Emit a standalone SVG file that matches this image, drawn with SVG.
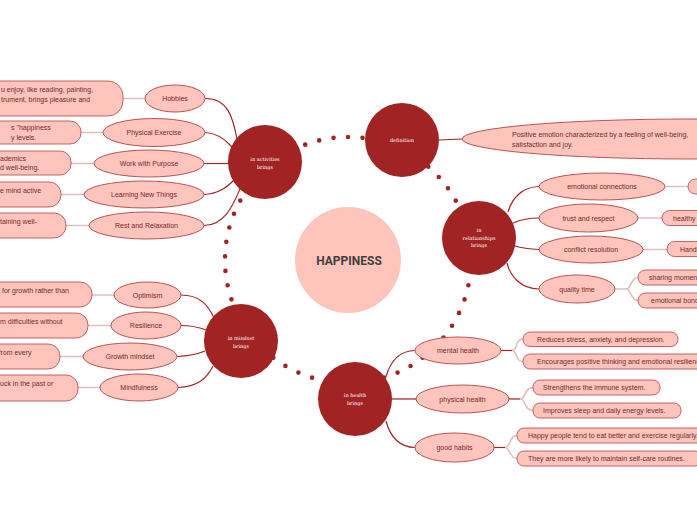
<svg xmlns="http://www.w3.org/2000/svg" width="697" height="520" viewBox="0 0 697 520">
<style>
.hub{fill:#A12323}
.ct{font-family:"DejaVu Serif","Liberation Serif",serif;font-size:5px;fill:#ffffff;text-anchor:middle}
.ell{fill:#FFC4BC;stroke:#B04446;stroke-width:0.9}
.et{font-family:"Liberation Sans",Arial,sans-serif;font-size:7px;fill:#74292B;text-anchor:middle}
.box{fill:#FFC4BC;stroke:#BF5456;stroke-width:0.9}
.bt{font-family:"Liberation Sans",Arial,sans-serif;font-size:7px;fill:#74292B}
.conn{fill:none;stroke:#A12323;stroke-width:1.2}
.lnk{fill:none;stroke:#E2BCBC;stroke-width:1.5}
.ring{fill:none;stroke:#A12323;stroke-width:4.6;stroke-linecap:round;stroke-dasharray:0 14.58}
</style>
<rect width="697" height="520" fill="#ffffff"/>
<g id="connectors">
<path class="ring" d="M348 137 A123 123 0 1 1 348 383 A123 123 0 1 1 348 137"/>
<path class="conn" d="M205 98.5 C228 98 233 118 237 139"/>
<path class="conn" d="M205 132.5 C218 133 226 140 232 147"/>
<path class="conn" d="M204 163.5 L229 163.5"/>
<path class="conn" d="M204 194.5 C218 194 226 188 234 180"/>
<path class="conn" d="M204 225.5 C225 225 233 205 240 189"/>
<path class="conn" d="M181 295 C200 295 208 305 214 318"/>
<path class="conn" d="M181 325.5 C192 325.5 198 327 206 330"/>
<path class="conn" d="M177 356.5 C190 356 198 354 205 351"/>
<path class="conn" d="M178 387.5 C198 387 207 378 213 366"/>
<path class="conn" d="M439 140 L462 139"/>
<path class="conn" d="M539 186.5 C522 187 512 198 508 212"/>
<path class="conn" d="M539 218 C528 218 520 220 513 223"/>
<path class="conn" d="M539 249.5 C530 249 522 248 515 246"/>
<path class="conn" d="M539 289 C520 289 510 275 507 263"/>
<path class="conn" d="M415 350.5 C398 351 390 362 386 377"/>
<path class="conn" d="M392 399 L416 399"/>
<path class="conn" d="M415 447.5 C398 447 390 436 386 421"/>
<path class="lnk" d="M123 98.5 L145 98.5"/>
<path class="lnk" d="M81 132.5 L103 132.5"/>
<path class="lnk" d="M71 163.5 L94 163.5"/>
<path class="lnk" d="M61 194.5 L84 194.5"/>
<path class="lnk" d="M66 225.5 L89 225.5"/>
<path class="lnk" d="M92 295 L114 295"/>
<path class="lnk" d="M88 325.5 L111 325.5"/>
<path class="lnk" d="M60 356.5 L83 356.5"/>
<path class="lnk" d="M78 387.5 L100 387.5"/>
<path class="lnk" d="M665 186.5 L688 186.5"/>
<path class="lnk" d="M638 218 L662 218"/>
<path class="lnk" d="M643 249.5 L667 249.5"/>
<path class="lnk" d="M615 289 L626 289"/>
<path class="lnk" d="M626 289 C632 289 630 277.5 638 277.5 M626 289 C632 289 630 300.5 638 300.5"/>
<path class="conn" d="M501 350.5 L512 350.5"/>
<path class="lnk" d="M512 350.5 C518 350 515 339 523 339 M512 350.5 C518 351 515 361.5 523 361.5"/>
<path class="conn" d="M509 399 L520 399"/>
<path class="lnk" d="M520 399 C526 399 524 387.5 533 387.5 M520 399 C526 399 524 410.5 533 410.5"/>
<path class="conn" d="M494 447.5 L505 447.5"/>
<path class="lnk" d="M505 447.5 C511 447 509 435.5 517 435.5 M505 447.5 C511 448 509 458.5 517 458.5"/>
</g>
<g id="happiness">
<circle cx="348" cy="260" r="53" fill="#FFC4BC"/>
<text x="349" y="265" font-family="Roboto,'Liberation Sans',sans-serif" font-size="12" font-weight="bold" fill="#3F3F3F" text-anchor="middle">HAPPINESS</text>
</g>
<g id="activities">
<circle class="hub" cx="265" cy="162" r="37"/>
<text class="ct" x="265" y="161">in activities</text>
<text class="ct" x="265" y="168.5">brings</text>
</g>
<g id="definition">
<circle class="hub" cx="402" cy="140" r="37"/>
<text class="ct" x="402" y="141.5">definition</text>
</g>
<g id="relationships">
<circle class="hub" cx="479" cy="238" r="37"/>
<text class="ct" x="479" y="232">in</text>
<text class="ct" x="479" y="239.5">relationships</text>
<text class="ct" x="479" y="247">brings</text>
</g>
<g id="mindset">
<circle class="hub" cx="241" cy="341" r="37"/>
<text class="ct" x="241" y="340">in mindset</text>
<text class="ct" x="241" y="347.5">brings</text>
</g>
<g id="health">
<circle class="hub" cx="355" cy="399" r="37"/>
<text class="ct" x="355" y="397">in health</text>
<text class="ct" x="355" y="404.5">brings</text>
</g>
<g id="hobbies">
<ellipse class="ell" cx="175" cy="98.5" rx="30" ry="13.5"/>
<text class="et" x="175" y="101">Hobbies</text>
</g>
<g id="hobbies-detail">
<rect class="box" x="-80" y="81" width="203" height="35" rx="15"/>
<text class="bt" x="1" y="92">u enjoy, like reading, painting,</text>
<text class="bt" x="1" y="101.5">trument, brings pleasure and</text>
</g>
<g id="physical-exercise">
<ellipse class="ell" cx="154" cy="132.5" rx="51" ry="14"/>
<text class="et" x="154" y="135">Physical Exercise</text>
</g>
<g id="physical-exercise-detail">
<rect class="box" x="-80" y="121" width="161" height="23" rx="11"/>
<text class="bt" x="11" y="130">s "happiness</text>
<text class="bt" x="11" y="139.5">y levels.</text>
</g>
<g id="work-purpose">
<ellipse class="ell" cx="149" cy="163.5" rx="55" ry="13.5"/>
<text class="et" x="149" y="166">Work with Purpose</text>
</g>
<g id="work-purpose-detail">
<rect class="box" x="-80" y="151" width="151" height="24" rx="11"/>
<text class="bt" x="0" y="160.5">ademics</text>
<text class="bt" x="0" y="170">d well-being.</text>
</g>
<g id="learning">
<ellipse class="ell" cx="144" cy="194.5" rx="60" ry="13.5"/>
<text class="et" x="144" y="197">Learning New Things</text>
</g>
<g id="learning-detail">
<rect class="box" x="-80" y="182" width="141" height="25" rx="12"/>
<text class="bt" x="0" y="193">e mind active</text>
</g>
<g id="rest">
<ellipse class="ell" cx="146.5" cy="225.5" rx="57.5" ry="13.5"/>
<text class="et" x="146.5" y="228">Rest and Relaxation</text>
</g>
<g id="rest-detail">
<rect class="box" x="-80" y="213" width="146" height="25" rx="12"/>
<text class="bt" x="0" y="224">taining well-</text>
</g>
<g id="optimism">
<ellipse class="ell" cx="147.5" cy="295" rx="33.5" ry="13"/>
<text class="et" x="147.5" y="297.5">Optimism</text>
</g>
<g id="optimism-detail">
<rect class="box" x="-80" y="282" width="172" height="25" rx="12"/>
<text class="bt" x="2" y="292.5">for growth rather than</text>
</g>
<g id="resilience">
<ellipse class="ell" cx="146" cy="325.5" rx="35" ry="13.5"/>
<text class="et" x="146" y="328">Resilience</text>
</g>
<g id="resilience-detail">
<rect class="box" x="-80" y="313" width="168" height="25" rx="12"/>
<text class="bt" x="0" y="324">m difficulties without</text>
</g>
<g id="growth-mindset">
<ellipse class="ell" cx="130" cy="356.5" rx="47" ry="13.5"/>
<text class="et" x="130" y="359">Growth mindset</text>
</g>
<g id="growth-mindset-detail">
<rect class="box" x="-80" y="344" width="140" height="25" rx="12"/>
<text class="bt" x="-1.5" y="354.5">from every</text>
</g>
<g id="mindfulness">
<ellipse class="ell" cx="139" cy="387.5" rx="39" ry="13.5"/>
<text class="et" x="139" y="390">Mindfulness</text>
</g>
<g id="mindfulness-detail">
<rect class="box" x="-80" y="375" width="158" height="26" rx="12"/>
<text class="bt" x="0" y="385.5">uck in the past or</text>
</g>
<g id="definition-text">
<ellipse class="ell" cx="690" cy="139" rx="228" ry="20"/>
<text class="bt" x="512" y="136.5">Positive emotion characterized by a feeling of well-being,</text>
<text class="bt" x="512" y="146.5">satisfaction and joy.</text>
</g>
<g id="emotional-connections">
<ellipse class="ell" cx="602" cy="186.5" rx="63" ry="13.5"/>
<text class="et" x="602" y="189">emotional connections</text>
</g>
<g id="emotional-connections-detail">
<rect class="box" x="688" y="179" width="60" height="15" rx="7.5"/>
</g>
<g id="trust">
<ellipse class="ell" cx="588.5" cy="218" rx="49.5" ry="14"/>
<text class="et" x="588.5" y="220.5">trust and respect</text>
</g>
<g id="trust-detail">
<rect class="box" x="662" y="210.5" width="80" height="15" rx="7.5"/>
<text class="bt" x="673" y="220.5">healthy</text>
</g>
<g id="conflict">
<ellipse class="ell" cx="591" cy="249.5" rx="52" ry="13.5"/>
<text class="et" x="591" y="252">conflict resolution</text>
</g>
<g id="conflict-detail">
<rect class="box" x="667" y="241.5" width="80" height="15" rx="7.5"/>
<text class="bt" x="680" y="251.5">Handling</text>
</g>
<g id="quality-time">
<ellipse class="ell" cx="577" cy="289" rx="38" ry="14"/>
<text class="et" x="577" y="291.5">quality time</text>
</g>
<g id="sharing-moments">
<rect class="box" x="638" y="270" width="80" height="15" rx="7.5"/>
<text class="bt" x="649" y="280">sharing moments</text>
</g>
<g id="emotional-bonds">
<rect class="box" x="638" y="293" width="80" height="15" rx="7.5"/>
<text class="bt" x="651" y="303">emotional bonds</text>
</g>
<g id="mental-health">
<ellipse class="ell" cx="458" cy="350.5" rx="43" ry="13.5"/>
<text class="et" x="458" y="353">mental health</text>
</g>
<g id="mental-1">
<rect class="box" x="523" y="332" width="155" height="14.5" rx="7"/>
<text class="bt" x="537" y="341.5">Reduces stress, anxiety, and depression.</text>
</g>
<g id="mental-2">
<rect class="box" x="523" y="354" width="190" height="15" rx="7"/>
<text class="bt" x="537" y="364">Encourages positive thinking and emotional resilience.</text>
</g>
<g id="physical-health">
<ellipse class="ell" cx="462.5" cy="399" rx="46.5" ry="14"/>
<text class="et" x="462.5" y="401.5">physical health</text>
</g>
<g id="physical-1">
<rect class="box" x="533" y="380" width="127" height="15" rx="7"/>
<text class="bt" x="543" y="390">Strengthens the immune system.</text>
</g>
<g id="physical-2">
<rect class="box" x="533" y="403" width="148" height="15" rx="7"/>
<text class="bt" x="543" y="413">Improves sleep and daily energy levels.</text>
</g>
<g id="good-habits">
<ellipse class="ell" cx="454.5" cy="447.5" rx="39.5" ry="14.5"/>
<text class="et" x="454.5" y="450">good habits</text>
</g>
<g id="habits-1">
<rect class="box" x="517" y="428" width="200" height="15" rx="7"/>
<text class="bt" x="528" y="438">Happy people tend to eat better and exercise regularly.</text>
</g>
<g id="habits-2">
<rect class="box" x="517" y="451" width="185" height="15" rx="7"/>
<text class="bt" x="528" y="461">They are more likely to maintain self-care routines.</text>
</g>
</svg>
